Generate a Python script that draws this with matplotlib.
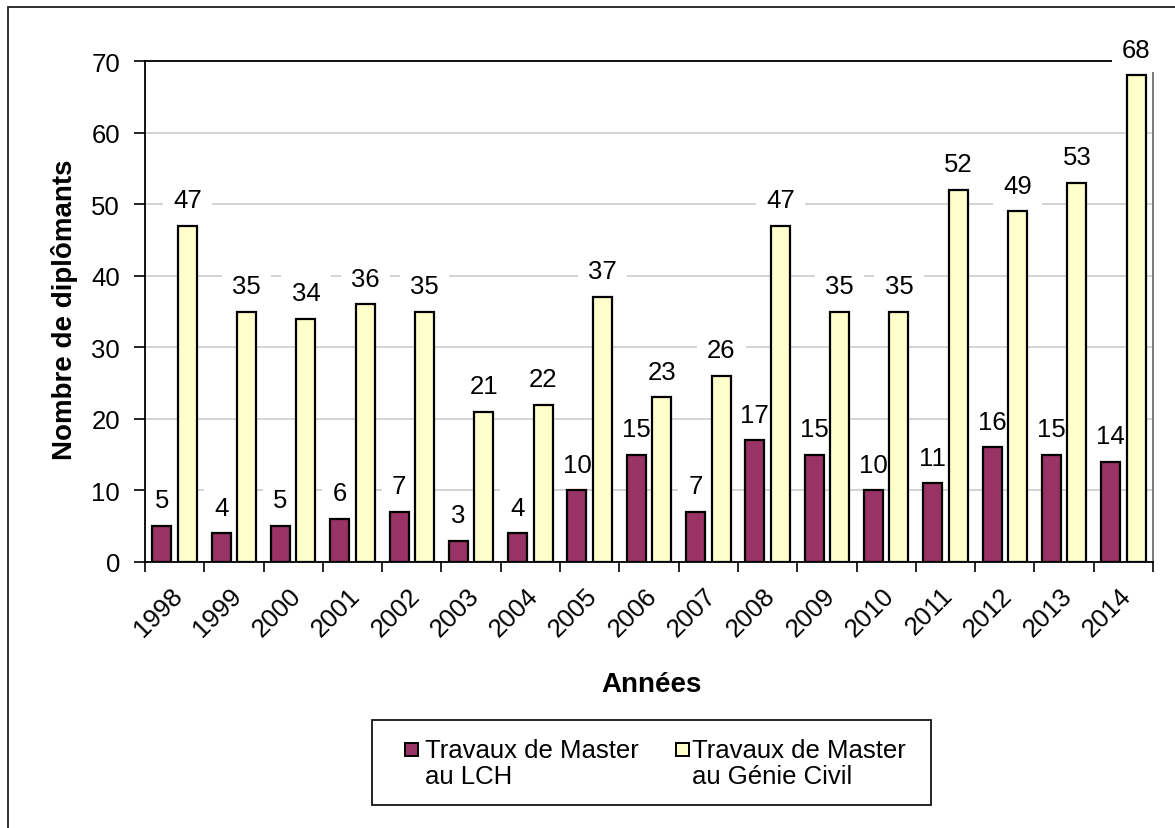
import numpy as np
import matplotlib
matplotlib.use("Agg")
import matplotlib.pyplot as plt
from matplotlib.patches import Rectangle
from matplotlib.transforms import ScaledTranslation

plt.rcParams['font.family'] = ['Liberation Sans', 'DejaVu Sans']

years = ['1998', '1999', '2000', '2001', '2002', '2003', '2004', '2005', '2006',
         '2007', '2008', '2009', '2010', '2011', '2012', '2013', '2014']
master_lch = [5, 4, 5, 6, 7, 3, 4, 10, 15, 7, 17, 15, 10, 11, 16, 15, 14]
master_gc = [47, 35, 34, 36, 35, 21, 22, 37, 23, 26, 47, 35, 35, 52, 49, 53, 68]
series_names = ['Travaux de Master\nau LCH', 'Travaux de Master\nau Génie Civil']
y_ticks = [0, 10, 20, 30, 40, 50, 60, 70]

W, H = 1175, 829
FS = 18.5
fig = plt.figure(figsize=(W / 100, H / 100), dpi=100)


def fx(px):
    return px / W


def fy(py):
    return 1 - py / H


# plot area
left, right, top, bottom = 145, 1153, 62, 563
ax = fig.add_axes([fx(left), fy(bottom), fx(right - left), (bottom - top) / H])

x = np.arange(len(years))
bw = 0.32
off = 0.215
purple = '#993366'
cream = '#FFFFCC'

ax.bar(x - off, master_lch, bw, color=purple, edgecolor='black', linewidth=1.6, zorder=3)
ax.bar(x + off, master_gc, bw, color=cream, edgecolor='black', linewidth=1.6, zorder=3)

ax.set_xlim(-0.5, len(years) - 0.5)
ax.set_ylim(0, 70)

# horizontal grid
ax.set_yticks(y_ticks)
ax.set_yticklabels([str(v) for v in y_ticks], fontsize=FS)
ax.yaxis.grid(True, color='#C8C8C8', linewidth=1.1, zorder=0)
ax.set_axisbelow(True)
ax.tick_params(axis='y', direction='out', length=8, width=1.2, pad=10, colors='black')

# category boundaries carry the tick marks, centres carry the labels
ax.set_xticks(np.arange(len(years) + 1) - 0.5)
ax.set_xticklabels([])
ax.tick_params(axis='x', which='major', direction='out', length=7, width=1.2)
ax.set_xticks(x, minor=True)
ax.set_xticklabels(years, minor=True, fontsize=FS, rotation=45,
                   ha='right', va='center', rotation_mode='anchor')
ax.tick_params(axis='x', which='minor', length=0, pad=21)
shift = ScaledTranslation(4 / 100, 0, fig.dpi_scale_trans)
for lab in ax.get_xticklabels(minor=True):
    lab.set_transform(lab.get_transform() + shift)

for side in ['left', 'top', 'bottom']:
    ax.spines[side].set_color('black')
    ax.spines[side].set_linewidth(1.3)
ax.spines['left'].set_zorder(2.8)
ax.spines['bottom'].set_zorder(2.8)
ax.spines['right'].set_color('#707070')
ax.spines['right'].set_linewidth(1.3)

# value labels on white boxes (above grid and frame, below the bars)
for xs, vals in ((x - off, master_lch), (x + off, master_gc)):
    for xi, v in zip(xs, vals):
        ax.annotate(str(v), (xi, v), xytext=(0, 13.5), textcoords='offset points',
                    ha='center', va='baseline', fontsize=FS, zorder=2.7,
                    annotation_clip=False,
                    bbox=dict(boxstyle='square,pad=0.4', facecolor='white',
                              edgecolor='none'))

# axis titles
fig.text(fx(65), fy(310), 'Nombre de diplômants', rotation=90, ha='center',
         va='center', fontsize=20, fontweight='bold')
fig.text(fx(651), fy(692), 'Années', ha='center', va='baseline',
         fontsize=20, fontweight='bold')

# legend
fig.patches.append(Rectangle((fx(372), fy(806)), fx(931 - 372), (806 - 721) / H,
                             transform=fig.transFigure, facecolor='white',
                             edgecolor='black', linewidth=1.2))
entries = [(purple, 405, 425), (cream, 676, 692)]
for (col, hx, tx), name in zip(entries, series_names):
    fig.patches.append(Rectangle((fx(hx), fy(757)), 13 / W, 13 / H,
                                 transform=fig.transFigure, facecolor=col,
                                 edgecolor='black', linewidth=1.4))
    for k, line in enumerate(name.split('\n')):
        fig.text(fx(tx), fy(758 + 26 * k), line, ha='left', va='baseline',
                 fontsize=FS)

# outer frame
fig.patches.append(Rectangle((fx(8), fy(900)), fx(1300), (900 - 8) / H,
                             transform=fig.transFigure, facecolor='none',
                             edgecolor='#202020', linewidth=1.3))

fig.savefig('out.png', dpi=100)
